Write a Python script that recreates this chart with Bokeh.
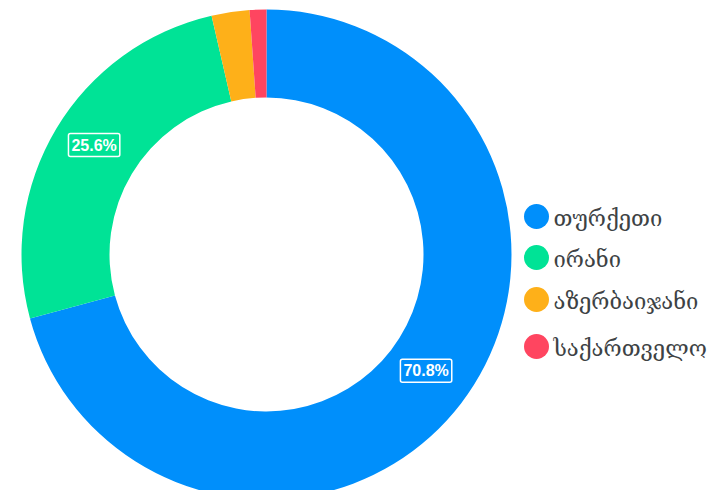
import numpy as np
from bokeh.plotting import figure
from bokeh.models import Range1d, Label
from bokeh.core.properties import value
from bokeh.embed import file_html
from bokeh.resources import INLINE

categories = ["თურქეთი", "ირანი", "აზერბაიჯანი", "საქართველო"]
values = [70.8, 25.6, 2.5, 1.1]
colors = ["#008FFB", "#00E396", "#FEB019", "#FF4560"]
label_texts = ["70.8%", "25.6%", "", ""]

W, H = 720, 490
p = figure(width=W, height=H, output_backend="svg", toolbar_location=None,
           x_range=Range1d(0, W), y_range=Range1d(498 - H, 498),
           min_border=0)
p.axis.visible = False
p.grid.visible = False
p.outline_line_color = None
p.background_fill_color = "white"

cx, cy = 266, 498 - 254
r_out, r_in = 245, 157

vals = np.array(values)
frac = vals / vals.sum()
cum_end = np.cumsum(frac)
cum_start = cum_end - frac
start = np.pi / 2 - cum_start * 2 * np.pi
end = np.pi / 2 - cum_end * 2 * np.pi

p.annular_wedge(x=cx, y=cy, inner_radius=r_in, outer_radius=r_out,
                start_angle=list(start), end_angle=list(end), direction="clock",
                fill_color=colors, line_color=None)

r_lab = 201
for i, t in enumerate(label_texts):
    if not t:
        continue
    mid = (start[i] + end[i]) / 2
    lx = cx + r_lab * np.cos(mid)
    ly = cy + r_lab * np.sin(mid) + 6
    p.add_layout(Label(x=lx, y=ly, text=t, text_color="white",
                       text_font="Liberation Sans", text_font_style="bold",
                       text_font_size="16px", text_align="center",
                       text_baseline="middle", border_line_color="white",
                       border_line_width=1.5, border_radius=2, padding=3))

leg_y = [498 - 216, 498 - 257, 498 - 299, 498 - 346]
p.scatter(x=[536] * 4, y=leg_y, size=25, marker="circle", fill_color=colors,
          line_color=None)
p.text(x=[553] * 4, y=[y - 2 for y in leg_y], text=categories,
       text_font=value("DejaVu Serif"), text_font_size="22px",
       text_color="#3d4244", text_baseline="middle", text_align="left")

open("out.html", "w").write(file_html(p, INLINE))
